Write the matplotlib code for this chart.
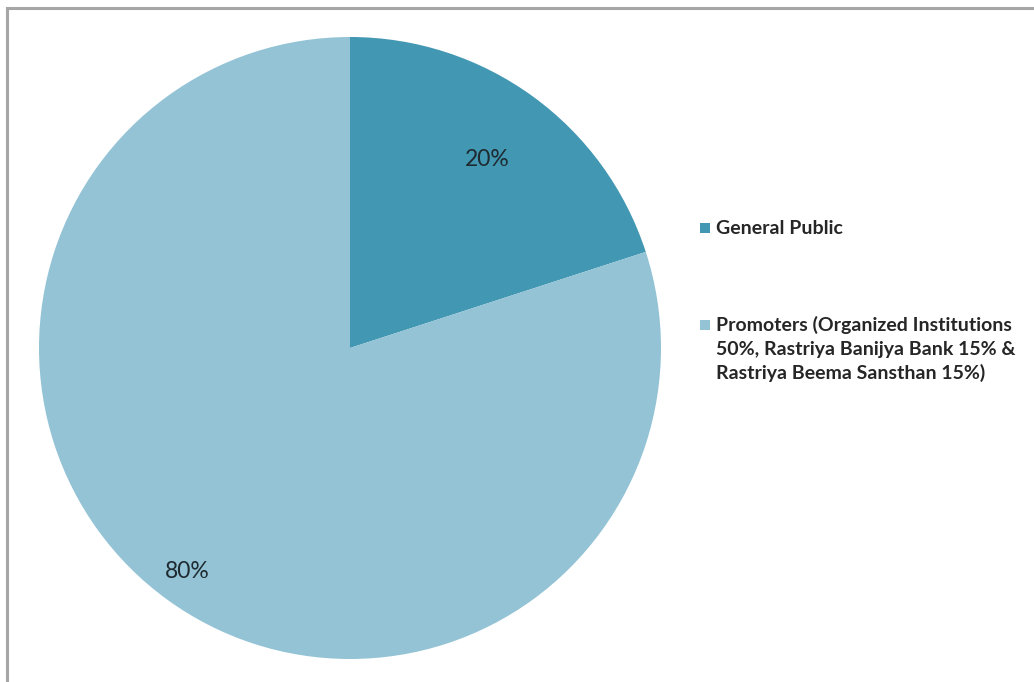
import matplotlib
matplotlib.use("Agg")
import matplotlib.pyplot as plt
from matplotlib.patches import Rectangle
import numpy as np

labels = ["General Public",
          "Promoters (Organized Institutions\n50%, Rastriya Banijya Bank 15% &\nRastriya Beema Sansthan 15%)"]
shares = [20, 80]
colors = ["#4297b2", "#93c3d5"]
label_dist = [0.75, 0.89]

W, H = 1034, 682
fig = plt.figure(figsize=(W / 100, H / 100), dpi=100)
fig.patch.set_facecolor("white")

# outer chart frame (only top/left edges fall inside the canvas)
fig.patches.append(Rectangle((7 / W, -0.1), 1.2, 1 - 8 / H + 0.1, transform=fig.transFigure,
                             fill=False, edgecolor="#a6a6a6", lw=2.2))

cx, cy, r = 350, 348, 311
ax = fig.add_axes([(cx - r) / W, (H - cy - r) / H, 2 * r / W, 2 * r / H])
wedges, _ = ax.pie(shares, colors=colors, startangle=90, counterclock=False,
                   wedgeprops=dict(linewidth=0))
ax.set_xlim(-1, 1)
ax.set_ylim(-1, 1)
ax.set_aspect("equal")
ax.axis("off")

for w, v, d in zip(wedges, shares, label_dist):
    mid = np.deg2rad((w.theta1 + w.theta2) / 2)
    ax.text(d * np.cos(mid), d * np.sin(mid), f"{v}%", ha="center", va="center",
            fontsize=16.5, family="Lato", color="#1e2a30")

# legend drawn by hand so the marker sits on the first line of each entry
leg_y = [228, 325]
for lab, col, y in zip(labels, colors, leg_y):
    fig.patches.append(Rectangle((700 / W, (H - y - 5) / H), 10 / W, 10 / H,
                                 transform=fig.transFigure, facecolor=col, edgecolor="none"))
    for k, line in enumerate(lab.split("\n")):
        fig.text(716 / W, (H - y - 24 * k) / H, line, ha="left", va="center",
                 fontsize=14, family="Lato", weight="bold", color="#262626")

fig.savefig("out.png", dpi=100)
